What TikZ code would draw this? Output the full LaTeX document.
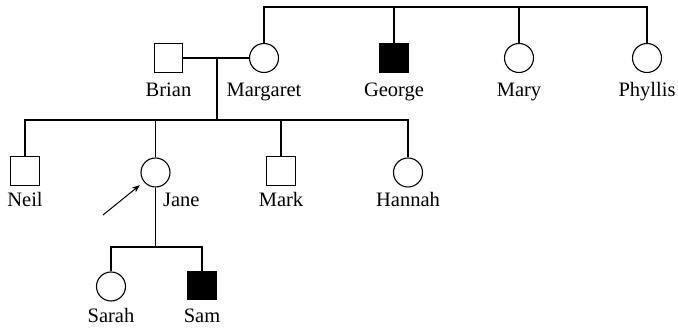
\documentclass[tikz,border=0pt]{standalone}
\usepackage{fontspec}
\setmainfont{Liberation Serif}
\usetikzlibrary{positioning, arrows.meta}

\begin{document}
\begin{tikzpicture}[
    x=1pt, y=-1pt,
    line width=1.1pt,
    female/.style={circle, draw, minimum size=29pt, inner sep=0pt},
    male/.style={rectangle, draw, minimum size=28.5pt, inner sep=0pt},
    affected/.style={fill=black},
    pname/.style={font=\fontsize{20.5}{24}\selectfont, inner sep=0pt, anchor=base},
    pointer/.style={-{Stealth[length=8pt, width=6pt]}, line width=1pt, shorten >=5pt}
]
\useasboundingbox (0,0) rectangle (678,328);

% first generation
\node[male] (brian) at (168.5,58) {};
\node[female] (margaret) at (264,58) {};
\node[male, affected] (george) at (394,58) {};
\node[female] (mary) at (519,58) {};
\node[female] (phyllis) at (647,58) {};

\node[pname] (brianlab) at (brian |- 0,96.5) {Brian};
\node[pname] (margaretlab) at (margaret |- 0,96.5) {Margaret};
\node[pname] (georgelab) at (george |- 0,96.5) {George};
\node[pname] (marylab) at (mary |- 0,96.5) {Mary};
\node[pname] (phyllislab) at (phyllis |- 0,96.5) {Phyllis};

% second generation
\node[male] (neil) at (25,171) {};
\node[female] (jane) at (155.5,172.5) {};
\node[male] (mark) at (281,171) {};
\node[female] (hannah) at (408,172.5) {};

\node[pname] (neillab) at (neil |- 0,207) {Neil};
\node[pname, anchor=base west] (janelab) at (162.5,207) {Jane};
\node[pname] (marklab) at (mark |- 0,207) {Mark};
\node[pname] (hannahlab) at (hannah |- 0,207) {Hannah};

% third generation
\node[female] (sarah) at (111,286.5) {};
\node[male, affected] (sam) at (202,285.5) {};

\node[pname] (sarahlab) at (sarah |- 0,323) {Sarah};
\node[pname] (samlab) at (sam |- 0,323) {Sam};

% sibship and marriage lines
\coordinate (sibtop) at (264,7);
\coordinate (union) at (217,58);
\coordinate (sibmid) at (217,120);
\coordinate (siblow) at (155.5,247);

\draw (margaret.north) -- (sibtop) -| (phyllis.north);
\draw (george.north) -- (george.north |- sibtop);
\draw (mary.north) -- (mary.north |- sibtop);

\draw (brian.east) -- (margaret.west);
\draw (union) -- (sibmid);
\draw (neil.north) |- (hannah.north |- sibmid) -- (hannah.north);
\draw (jane.north) -- (jane.north |- sibmid);
\draw (mark.north) -- (mark.north |- sibmid);

\draw (jane.south) -- (siblow);
\draw (sarah.north) |- (sam.north |- siblow) -- (sam.north);

% proband
\coordinate (probandtail) at (103,215);
\draw[pointer] (probandtail) -- (jane);

\end{tikzpicture}
\end{document}
